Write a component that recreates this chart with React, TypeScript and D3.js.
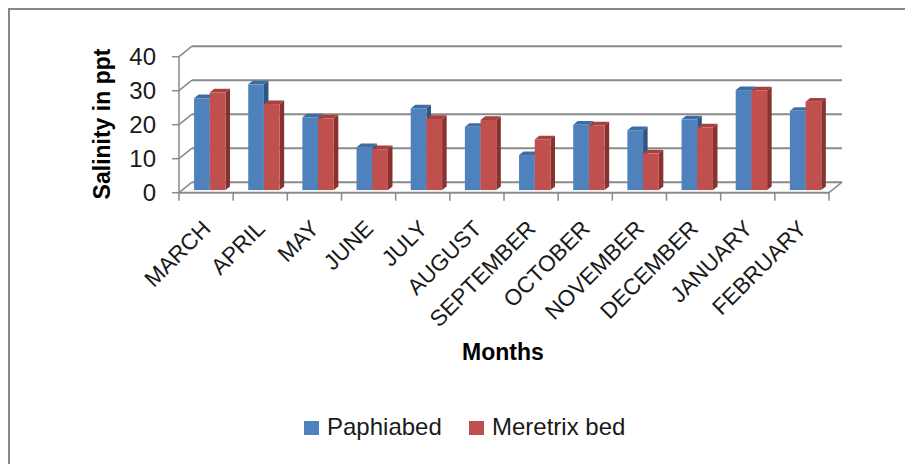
import React from "react";
import * as d3 from "d3";

const months = ["MARCH","APRIL","MAY","JUNE","JULY","AUGUST","SEPTEMBER","OCTOBER","NOVEMBER","DECEMBER","JANUARY","FEBRUARY"];
const seriesNames = ["Paphiabed", "Meretrix bed"];
const paphia = [27.0, 31.1, 21.4, 12.6, 24.0, 18.6, 10.3, 19.2, 17.6, 20.8, 29.4, 23.3];
const meretrix = [28.7, 25.3, 21.1, 12.0, 20.9, 20.6, 14.9, 19.0, 10.8, 18.4, 29.3, 26.0];
const yTicks = [0, 10, 20, 30, 40];

const W = 905, H = 464;
const FONT = "'Liberation Sans', Arial, sans-serif";
const colors = [
  { front: "#4f81bd", top: "#3e6ca3", side: "#2f5583" },
  { front: "#c0504d", top: "#a6413e", side: "#883230" },
];

export default function App() {
  const x = d3.scaleBand<string>().domain(months).range([179, 829]).padding(0);
  const y = d3.scaleLinear().domain([0, 40]).range([192.7, 56.7]);
  const inner = d3.scaleBand<string>().domain(seriesNames).range([11.8, 43.2]).padding(0);
  const D = { dx: 13, dy: -10.5 };
  const plane = { dx: D.dx * 0.25, dy: D.dy * 0.25 };
  const depth = { dx: D.dx * 0.35, dy: D.dy * 0.35 };
  const grid = "#8a8a8a";
  const x0 = x.range()[0], x1 = x.range()[1];

  const data = [paphia, meretrix];
  const bars: JSX.Element[] = [];
  months.forEach((m, i) => {
    seriesNames.forEach((s, si) => {
      const v = data[si][i];
      const L = (x(m) as number) + (inner(s) as number) + plane.dx;
      const R = L + inner.bandwidth();
      const yt = y(v) + plane.dy;
      const yb = y(0) + plane.dy;
      const c = colors[si];
      const pts = (arr: number[][]) => arr.map((p) => p.join(",")).join(" ");
      bars.push(
        <g key={m + s}>
          <polygon points={pts([[R, yt], [R + depth.dx, yt + depth.dy], [R + depth.dx, yb + depth.dy], [R, yb]])} fill={c.side} />
          <polygon points={pts([[L, yt], [R, yt], [R + depth.dx, yt + depth.dy], [L + depth.dx, yt + depth.dy]])} fill={c.top} />
          <rect x={L} y={yt} width={R - L} height={yb - yt} fill={c.front} />
        </g>
      );
    });
  });

  return (
    <svg width={W} height={H} style={{ position: "absolute", left: 0, top: 0, background: "#fff" }}>
      <rect x={9} y={9} width={1200} height={1200} fill="#fff" stroke="#868686" strokeWidth={2} />
      {yTicks.map((t) => (
        <g key={"g" + t}>
          <line x1={x0 + D.dx} x2={x1 + D.dx} y1={y(t) + D.dy} y2={y(t) + D.dy} stroke={grid} strokeWidth={2} />
          <line x1={x0} x2={x0 + D.dx} y1={y(t)} y2={y(t) + D.dy} stroke={grid} strokeWidth={1.5} />
          <line x1={x0 - 7} x2={x0} y1={y(t)} y2={y(t)} stroke={grid} strokeWidth={1.5} />
          <text x={156} y={y(t)} textAnchor="end" dominantBaseline="central" fontFamily={FONT} fontSize={24} fill="#1a1a1a">{t}</text>
        </g>
      ))}
      <line x1={x0} x2={x1} y1={y(0)} y2={y(0)} stroke={grid} strokeWidth={2} />
      <line x1={x1} x2={x1 + D.dx} y1={y(0)} y2={y(0) + D.dy} stroke={grid} strokeWidth={1.5} />
      <line x1={x0} x2={x0} y1={y(40)} y2={y(0)} stroke={grid} strokeWidth={1.5} />
      {[...months.map((m) => x(m) as number), x1].map((tx, i) => (
        <line key={"t" + i} x1={tx} x2={tx} y1={y(0)} y2={y(0) + 8} stroke={grid} strokeWidth={1.5} />
      ))}
      {bars}
      {months.map((m) => {
        const cx = (x(m) as number) + x.bandwidth() / 2 + 6;
        return (
          <text key={"l" + m} x={cx} y={230} transform={`rotate(-45 ${cx} 230)`} textAnchor="end" fontFamily={FONT} fontSize={22.5} fill="#1a1a1a">{m}</text>
        );
      })}
      <text x={110} y={124} transform="rotate(-90 110 124)" textAnchor="middle" fontFamily={FONT} fontWeight="bold" fontSize={23} fill="#000">Salinity in ppt</text>
      <text x={503} y={360} textAnchor="middle" fontFamily={FONT} fontWeight="bold" fontSize={23} fill="#000">Months</text>
      {seriesNames.map((s, i) => {
        const lx = [304, 469][i];
        return (
          <g key={"lg" + s}>
            <rect x={lx} y={421} width={15} height={14} fill={colors[i].front} />
            <text x={lx + 23} y={435} fontFamily={FONT} fontSize={24} fill="#1a1a1a">{s}</text>
          </g>
        );
      })}
    </svg>
  );
}
